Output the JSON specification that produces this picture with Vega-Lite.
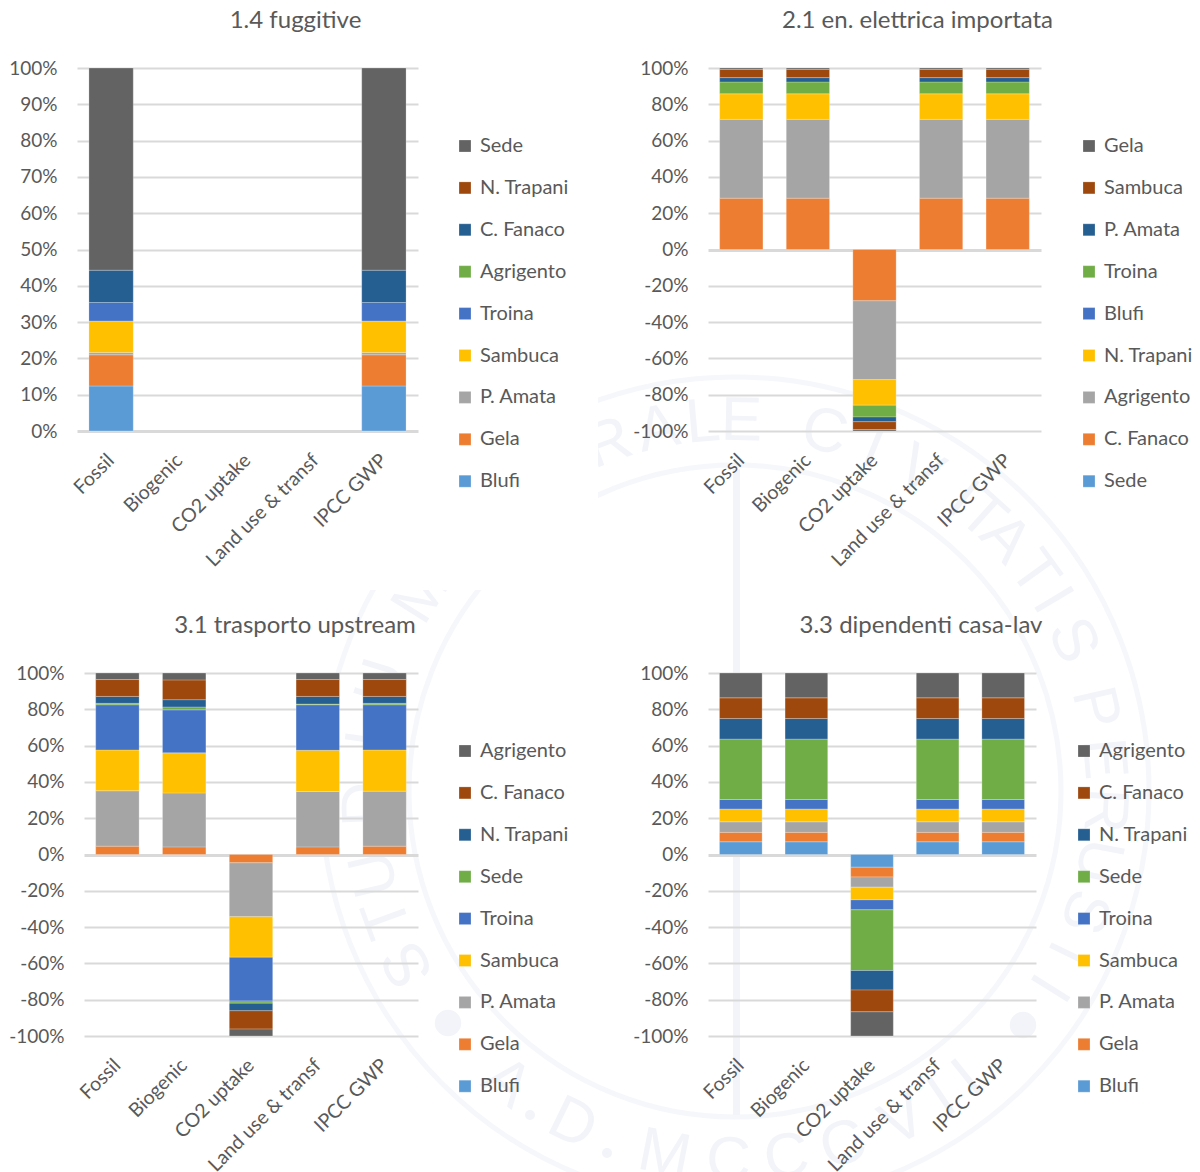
{
  "$schema": "https://vega.github.io/schema/vega-lite/v6.json",
  "background": "white",
  "padding": {"left": 8, "top": 9, "right": 0, "bottom": 0},
  "config": {
    "view": {"stroke": null},
    "font": "Lato",
    "bar": {"stroke": "white", "strokeWidth": 0.4, "strokeOpacity": 0.6},
    "title": {"font": "Lato", "fontWeight": "normal", "color": "#595959", "fontSize": 24, "anchor": "middle", "frame": "group"},
    "axisX": {"title": null, "domain": false, "ticks": false, "grid": false, "labelAngle": -45, "labelAlign": "right", "labelBaseline": "middle", "labelFontSize": 19.5, "labelColor": "#595959", "labelPadding": 26, "labelDx": 6, "labelLimit": 0, "labelOverlap": false, "labelFlush": false},
    "axisY": {"title": null, "domain": false, "ticks": false, "grid": true, "gridColor": "#D9D9D9", "gridWidth": {"condition": {"test": "datum.value === 0", "value": 3}, "value": 2}, "labelFontSize": 19, "labelColor": "#595959", "labelPadding": 20, "labelOverlap": false, "labelFlush": false, "labelExpr": "datum.value + '%'"},
    "legend": {"title": null, "orient": "none", "direction": "vertical", "symbolType": "square", "symbolSize": 144, "symbolStrokeWidth": 0, "symbolOpacity": 1, "labelFontSize": 20, "labelColor": "#595959", "labelOffset": 5, "rowPadding": 21.9, "labelLimit": 0}
  },
  "bounds": "flush",
  "align": "none",
  "columns": 3,
  "spacing": {"row": 242, "column": 0},
  "resolve": {"scale": {"color": "independent"}, "legend": {"color": "independent"}},
  "concat": [
    {
      "width": 1,
      "height": 363,
      "data": {"name": "seal"},
      "layer": [
        {
          "transform": [{"filter": "datum.part == 'staff'"}],
          "mark": {"type": "rect", "fill": "#F2F4F9", "stroke": null},
          "encoding": {
            "x": {"field": "cx", "type": "quantitative", "scale": {"domain": [-100, 100], "range": [559, 759], "nice": false, "zero": false}, "axis": null},
            "x2": {"field": "cx2"},
            "y": {"field": "cy", "type": "quantitative", "scale": {"domain": [-100, 100], "range": [823, 623], "nice": false, "zero": false}, "axis": null},
            "y2": {"field": "cy2"}
          }
        },
        {
          "transform": [{"filter": "datum.part == 'outer ring'"}],
          "mark": {"type": "point", "shape": "circle", "filled": false, "stroke": "#F2F4F9", "strokeWidth": 5, "size": 685584},
          "encoding": {
            "x": {"field": "cx", "type": "quantitative", "axis": null},
            "y": {"field": "cy", "type": "quantitative", "axis": null}
          }
        },
        {
          "transform": [{"filter": "datum.part == 'inner ring'"}],
          "mark": {"type": "point", "shape": "circle", "filled": false, "stroke": "#F2F4F9", "strokeWidth": 5, "size": 425104},
          "encoding": {
            "x": {"field": "cx", "type": "quantitative", "axis": null},
            "y": {"field": "cy", "type": "quantitative", "axis": null}
          }
        },
        {
          "transform": [{"filter": "datum.part == 'dot'"}],
          "mark": {"type": "point", "shape": "circle", "filled": true, "fill": "#F2F4F9", "stroke": null, "opacity": 1, "size": 700},
          "encoding": {
            "x": {"field": "cx", "type": "quantitative", "axis": null},
            "y": {"field": "cy", "type": "quantitative", "axis": null}
          }
        },
        {
          "transform": [{"filter": "datum.part == 'small dot'"}],
          "mark": {"type": "point", "shape": "circle", "filled": true, "fill": "#F2F4F9", "stroke": null, "opacity": 1, "size": 100},
          "encoding": {
            "x": {"field": "cx", "type": "quantitative", "axis": null},
            "y": {"field": "cy", "type": "quantitative", "axis": null}
          }
        },
        {
          "transform": [
            {"filter": "datum.part == 'letter'"},
            {"calculate": "370 * sin(datum.bearing * PI / 180)", "as": "lx"},
            {"calculate": "370 * cos(datum.bearing * PI / 180)", "as": "ly"},
            {"calculate": "datum.band == 'bottom' ? datum.bearing - 180 : datum.bearing", "as": "tilt"}
          ],
          "mark": {"type": "text", "font": "Liberation Sans", "fontSize": 62, "fill": "#F2F4F9", "align": "center", "baseline": "middle"},
          "encoding": {
            "x": {"field": "lx", "type": "quantitative", "axis": null},
            "y": {"field": "ly", "type": "quantitative", "axis": null},
            "text": {"field": "letter"},
            "angle": {"field": "tilt", "type": "quantitative", "scale": null}
          }
        },
        {
          "transform": [{"filter": "datum.part == 'blank corner'"}],
          "mark": {"type": "rect", "fill": "white", "stroke": null},
          "encoding": {
            "x": {"field": "cx", "type": "quantitative", "axis": null},
            "x2": {"field": "cx2"},
            "y": {"field": "cy", "type": "quantitative", "axis": null},
            "y2": {"field": "cy2"}
          }
        }
      ]
    },
    {
      "width": 341,
      "height": 363,
      "title": {"text": "1.4 fuggitive", "dx": 48, "offset": 26},
      "data": {"name": "fuggitive"},
      "mark": {"type": "bar"},
      "encoding": {
        "x": {"field": "category", "type": "nominal", "sort": ["Fossil", "Biogenic", "CO2 uptake", "Land use & transf", "IPCC GWP"], "scale": {"domain": ["Fossil", "Biogenic", "CO2 uptake", "Land use & transf", "IPCC GWP"], "paddingInner": 0.35, "paddingOuter": 0.175}},
        "y": {"field": "value", "type": "quantitative", "stack": "zero", "scale": {"domain": [0, 100], "nice": false}, "axis": {"values": [0, 10, 20, 30, 40, 50, 60, 70, 80, 90, 100]}},
        "order": {"field": "stack_rank", "type": "quantitative"},
        "color": {"field": "series", "type": "nominal", "scale": {"domain": ["Sede", "N. Trapani", "C. Fanaco", "Agrigento", "Troina", "Sambuca", "P. Amata", "Gela", "Blufi"], "range": ["#636363", "#9E480E", "#255E91", "#70AD47", "#4472C4", "#FFC000", "#A5A5A5", "#ED7D31", "#5B9BD5"]}, "legend": {"legendX": 378, "legendY": 68}}
      }
    },
    {
      "width": 623,
      "height": 363,
      "title": {"text": "2.1 en. elettrica importata", "dx": 188, "offset": 26},
      "data": {"name": "elettrica"},
      "mark": {"type": "bar"},
      "encoding": {
        "x": {"field": "category", "type": "nominal", "sort": ["Fossil", "Biogenic", "CO2 uptake", "Land use & transf", "IPCC GWP"], "scale": {"domain": ["Fossil", "Biogenic", "CO2 uptake", "Land use & transf", "IPCC GWP"], "paddingInner": 0.35, "paddingOuter": 0.175, "range": [290, 623]}},
        "y": {"field": "value", "type": "quantitative", "stack": "zero", "scale": {"domain": [-100, 100], "nice": false}, "axis": {"values": [-100, -80, -60, -40, -20, 0, 20, 40, 60, 80, 100], "offset": -290}},
        "order": {"field": "stack_rank", "type": "quantitative"},
        "color": {"field": "series", "type": "nominal", "scale": {"domain": ["Gela", "Sambuca", "P. Amata", "Troina", "Blufi", "N. Trapani", "Agrigento", "C. Fanaco", "Sede"], "range": ["#636363", "#9E480E", "#255E91", "#70AD47", "#4472C4", "#FFC000", "#A5A5A5", "#ED7D31", "#5B9BD5"]}, "legend": {"legendX": 661, "legendY": 68}}
      }
    },
    {
      "width": 1,
      "height": 363,
      "data": {"values": [{}]},
      "mark": {"type": "rect", "opacity": 0},
      "encoding": {}
    },
    {
      "width": 341,
      "height": 363,
      "title": {"text": "3.1 trasporto upstream", "dx": 47.5, "offset": 26},
      "data": {"name": "trasporto"},
      "mark": {"type": "bar"},
      "encoding": {
        "x": {"field": "category", "type": "nominal", "sort": ["Fossil", "Biogenic", "CO2 uptake", "Land use & transf", "IPCC GWP"], "scale": {"domain": ["Fossil", "Biogenic", "CO2 uptake", "Land use & transf", "IPCC GWP"], "paddingInner": 0.35, "paddingOuter": 0.175, "range": [7, 341]}},
        "y": {"field": "value", "type": "quantitative", "stack": "zero", "scale": {"domain": [-100, 100], "nice": false}, "axis": {"values": [-100, -80, -60, -40, -20, 0, 20, 40, 60, 80, 100], "offset": -7}},
        "order": {"field": "stack_rank", "type": "quantitative"},
        "color": {"field": "series", "type": "nominal", "scale": {"domain": ["Agrigento", "C. Fanaco", "N. Trapani", "Sede", "Troina", "Sambuca", "P. Amata", "Gela", "Blufi"], "range": ["#636363", "#9E480E", "#255E91", "#70AD47", "#4472C4", "#FFC000", "#A5A5A5", "#ED7D31", "#5B9BD5"]}, "legend": {"legendX": 378, "legendY": 68}}
      }
    },
    {
      "width": 618,
      "height": 363,
      "title": {"text": "3.3 dipendenti casa-lav", "dx": 194, "offset": 26},
      "data": {"name": "dipendenti"},
      "mark": {"type": "bar"},
      "encoding": {
        "x": {"field": "category", "type": "nominal", "sort": ["Fossil", "Biogenic", "CO2 uptake", "Land use & transf", "IPCC GWP"], "scale": {"domain": ["Fossil", "Biogenic", "CO2 uptake", "Land use & transf", "IPCC GWP"], "paddingInner": 0.35, "paddingOuter": 0.175, "range": [290, 618]}},
        "y": {"field": "value", "type": "quantitative", "stack": "zero", "scale": {"domain": [-100, 100], "nice": false}, "axis": {"values": [-100, -80, -60, -40, -20, 0, 20, 40, 60, 80, 100], "offset": -290}},
        "order": {"field": "stack_rank", "type": "quantitative"},
        "color": {"field": "series", "type": "nominal", "scale": {"domain": ["Agrigento", "C. Fanaco", "N. Trapani", "Sede", "Troina", "Sambuca", "P. Amata", "Gela", "Blufi"], "range": ["#636363", "#9E480E", "#255E91", "#70AD47", "#4472C4", "#FFC000", "#A5A5A5", "#ED7D31", "#5B9BD5"]}, "legend": {"legendX": 656, "legendY": 68}}
      }
    }
  ],
  "datasets": {
    "seal": [
      {"part": "outer ring", "cx": 0, "cy": 0},
      {"part": "inner ring", "cx": 0, "cy": 0},
      {"part": "staff", "cx": -2, "cx2": 5, "cy": 322, "cy2": -324},
      {"part": "dot", "cx": -287, "cy": -232},
      {"part": "dot", "cx": 288, "cy": -234},
      {"part": "small dot", "cx": -205, "cy": -324},
      {"part": "small dot", "cx": -128, "cy": -362},
      {"part": "letter", "letter": "S", "bearing": -118, "band": "top"},
      {"part": "letter", "letter": "T", "bearing": -110, "band": "top"},
      {"part": "letter", "letter": "U", "bearing": -103, "band": "top"},
      {"part": "letter", "letter": "D", "bearing": -92, "band": "top"},
      {"part": "letter", "letter": "I", "bearing": -82, "band": "top"},
      {"part": "letter", "letter": "U", "bearing": -73, "band": "top"},
      {"part": "letter", "letter": "M", "bearing": -58, "band": "top"},
      {"part": "letter", "letter": "R", "bearing": -20, "band": "top"},
      {"part": "letter", "letter": "A", "bearing": -12, "band": "top"},
      {"part": "letter", "letter": "L", "bearing": -5, "band": "top"},
      {"part": "letter", "letter": "E", "bearing": 1, "band": "top"},
      {"part": "letter", "letter": "C", "bearing": 14, "band": "top"},
      {"part": "letter", "letter": "I", "bearing": 22, "band": "top"},
      {"part": "letter", "letter": "V", "bearing": 30, "band": "top"},
      {"part": "letter", "letter": "I", "bearing": 38, "band": "top"},
      {"part": "letter", "letter": "T", "bearing": 42, "band": "top"},
      {"part": "letter", "letter": "A", "bearing": 47, "band": "top"},
      {"part": "letter", "letter": "T", "bearing": 54, "band": "top"},
      {"part": "letter", "letter": "I", "bearing": 59, "band": "top"},
      {"part": "letter", "letter": "S", "bearing": 66, "band": "top"},
      {"part": "letter", "letter": "P", "bearing": 77, "band": "top"},
      {"part": "letter", "letter": "E", "bearing": 85, "band": "top"},
      {"part": "letter", "letter": "R", "bearing": 93, "band": "top"},
      {"part": "letter", "letter": "U", "bearing": 101, "band": "top"},
      {"part": "letter", "letter": "S", "bearing": 109, "band": "top"},
      {"part": "letter", "letter": "I", "bearing": 116, "band": "top"},
      {"part": "letter", "letter": "I", "bearing": 122, "band": "top"},
      {"part": "letter", "letter": "A", "bearing": 218, "band": "bottom"},
      {"part": "letter", "letter": "D", "bearing": 206, "band": "bottom"},
      {"part": "letter", "letter": "M", "bearing": 191, "band": "bottom"},
      {"part": "letter", "letter": "C", "bearing": 181, "band": "bottom"},
      {"part": "letter", "letter": "C", "bearing": 172, "band": "bottom"},
      {"part": "letter", "letter": "C", "bearing": 163, "band": "bottom"},
      {"part": "letter", "letter": "V", "bearing": 153, "band": "bottom"},
      {"part": "letter", "letter": "I", "bearing": 146, "band": "bottom"},
      {"part": "letter", "letter": "I", "bearing": 141, "band": "bottom"},
      {"part": "blank corner", "cx": -430, "cx2": -137, "cy": 430, "cy2": 201}
    ],
    "fuggitive": [
      {"category": "Fossil", "series": "Blufi", "value": 12.4, "stack_rank": 1},
      {"category": "Fossil", "series": "Gela", "value": 8.6, "stack_rank": 2},
      {"category": "Fossil", "series": "P. Amata", "value": 0.6, "stack_rank": 3},
      {"category": "Fossil", "series": "Sambuca", "value": 8.7, "stack_rank": 4},
      {"category": "Fossil", "series": "Troina", "value": 5.1, "stack_rank": 5},
      {"category": "Fossil", "series": "C. Fanaco", "value": 8.9, "stack_rank": 7},
      {"category": "Fossil", "series": "Sede", "value": 55.7, "stack_rank": 9},
      {"category": "IPCC GWP", "series": "Blufi", "value": 12.4, "stack_rank": 1},
      {"category": "IPCC GWP", "series": "Gela", "value": 8.6, "stack_rank": 2},
      {"category": "IPCC GWP", "series": "P. Amata", "value": 0.6, "stack_rank": 3},
      {"category": "IPCC GWP", "series": "Sambuca", "value": 8.7, "stack_rank": 4},
      {"category": "IPCC GWP", "series": "Troina", "value": 5.1, "stack_rank": 5},
      {"category": "IPCC GWP", "series": "C. Fanaco", "value": 8.9, "stack_rank": 7},
      {"category": "IPCC GWP", "series": "Sede", "value": 55.7, "stack_rank": 9}
    ],
    "elettrica": [
      {"category": "Fossil", "series": "C. Fanaco", "value": 28.3, "stack_rank": 2},
      {"category": "Fossil", "series": "Agrigento", "value": 43.4, "stack_rank": 3},
      {"category": "Fossil", "series": "N. Trapani", "value": 14.1, "stack_rank": 4},
      {"category": "Fossil", "series": "Troina", "value": 6.5, "stack_rank": 6},
      {"category": "Fossil", "series": "P. Amata", "value": 2.4, "stack_rank": 7},
      {"category": "Fossil", "series": "Sambuca", "value": 4.5, "stack_rank": 8},
      {"category": "Fossil", "series": "Gela", "value": 0.8, "stack_rank": 9},
      {"category": "Biogenic", "series": "C. Fanaco", "value": 28.3, "stack_rank": 2},
      {"category": "Biogenic", "series": "Agrigento", "value": 43.4, "stack_rank": 3},
      {"category": "Biogenic", "series": "N. Trapani", "value": 14.1, "stack_rank": 4},
      {"category": "Biogenic", "series": "Troina", "value": 6.5, "stack_rank": 6},
      {"category": "Biogenic", "series": "P. Amata", "value": 2.4, "stack_rank": 7},
      {"category": "Biogenic", "series": "Sambuca", "value": 4.5, "stack_rank": 8},
      {"category": "Biogenic", "series": "Gela", "value": 0.8, "stack_rank": 9},
      {"category": "CO2 uptake", "series": "C. Fanaco", "value": -28.3, "stack_rank": 2},
      {"category": "CO2 uptake", "series": "Agrigento", "value": -43.4, "stack_rank": 3},
      {"category": "CO2 uptake", "series": "N. Trapani", "value": -14.1, "stack_rank": 4},
      {"category": "CO2 uptake", "series": "Troina", "value": -6.5, "stack_rank": 6},
      {"category": "CO2 uptake", "series": "P. Amata", "value": -2.6, "stack_rank": 7},
      {"category": "CO2 uptake", "series": "Sambuca", "value": -4.3, "stack_rank": 8},
      {"category": "CO2 uptake", "series": "Gela", "value": -0.8, "stack_rank": 9},
      {"category": "Land use & transf", "series": "C. Fanaco", "value": 28.3, "stack_rank": 2},
      {"category": "Land use & transf", "series": "Agrigento", "value": 43.4, "stack_rank": 3},
      {"category": "Land use & transf", "series": "N. Trapani", "value": 14.1, "stack_rank": 4},
      {"category": "Land use & transf", "series": "Troina", "value": 6.5, "stack_rank": 6},
      {"category": "Land use & transf", "series": "P. Amata", "value": 2.4, "stack_rank": 7},
      {"category": "Land use & transf", "series": "Sambuca", "value": 4.5, "stack_rank": 8},
      {"category": "Land use & transf", "series": "Gela", "value": 0.8, "stack_rank": 9},
      {"category": "IPCC GWP", "series": "C. Fanaco", "value": 28.3, "stack_rank": 2},
      {"category": "IPCC GWP", "series": "Agrigento", "value": 43.4, "stack_rank": 3},
      {"category": "IPCC GWP", "series": "N. Trapani", "value": 14.1, "stack_rank": 4},
      {"category": "IPCC GWP", "series": "Troina", "value": 6.5, "stack_rank": 6},
      {"category": "IPCC GWP", "series": "P. Amata", "value": 2.4, "stack_rank": 7},
      {"category": "IPCC GWP", "series": "Sambuca", "value": 4.5, "stack_rank": 8},
      {"category": "IPCC GWP", "series": "Gela", "value": 0.8, "stack_rank": 9}
    ],
    "trasporto": [
      {"category": "Fossil", "series": "Gela", "value": 4.6, "stack_rank": 2},
      {"category": "Fossil", "series": "P. Amata", "value": 30.5, "stack_rank": 3},
      {"category": "Fossil", "series": "Sambuca", "value": 22.5, "stack_rank": 4},
      {"category": "Fossil", "series": "Troina", "value": 24.9, "stack_rank": 5},
      {"category": "Fossil", "series": "Sede", "value": 0.8, "stack_rank": 6},
      {"category": "Fossil", "series": "N. Trapani", "value": 3.8, "stack_rank": 7},
      {"category": "Fossil", "series": "C. Fanaco", "value": 9.3, "stack_rank": 8},
      {"category": "Fossil", "series": "Agrigento", "value": 3.6, "stack_rank": 9},
      {"category": "Biogenic", "series": "Gela", "value": 4.2, "stack_rank": 2},
      {"category": "Biogenic", "series": "P. Amata", "value": 29.7, "stack_rank": 3},
      {"category": "Biogenic", "series": "Sambuca", "value": 22.1, "stack_rank": 4},
      {"category": "Biogenic", "series": "Troina", "value": 23.7, "stack_rank": 5},
      {"category": "Biogenic", "series": "Sede", "value": 1.6, "stack_rank": 6},
      {"category": "Biogenic", "series": "N. Trapani", "value": 4.0, "stack_rank": 7},
      {"category": "Biogenic", "series": "C. Fanaco", "value": 10.9, "stack_rank": 8},
      {"category": "Biogenic", "series": "Agrigento", "value": 3.8, "stack_rank": 9},
      {"category": "CO2 uptake", "series": "Gela", "value": -4.6, "stack_rank": 2},
      {"category": "CO2 uptake", "series": "P. Amata", "value": -29.7, "stack_rank": 3},
      {"category": "CO2 uptake", "series": "Sambuca", "value": -22.3, "stack_rank": 4},
      {"category": "CO2 uptake", "series": "Troina", "value": -24.1, "stack_rank": 5},
      {"category": "CO2 uptake", "series": "Sede", "value": -1.2, "stack_rank": 6},
      {"category": "CO2 uptake", "series": "N. Trapani", "value": -4.2, "stack_rank": 7},
      {"category": "CO2 uptake", "series": "C. Fanaco", "value": -10.1, "stack_rank": 8},
      {"category": "CO2 uptake", "series": "Agrigento", "value": -3.8, "stack_rank": 9},
      {"category": "Land use & transf", "series": "Gela", "value": 4.2, "stack_rank": 2},
      {"category": "Land use & transf", "series": "P. Amata", "value": 30.5, "stack_rank": 3},
      {"category": "Land use & transf", "series": "Sambuca", "value": 22.7, "stack_rank": 4},
      {"category": "Land use & transf", "series": "Troina", "value": 25.1, "stack_rank": 5},
      {"category": "Land use & transf", "series": "Sede", "value": 0.4, "stack_rank": 6},
      {"category": "Land use & transf", "series": "N. Trapani", "value": 4.2, "stack_rank": 7},
      {"category": "Land use & transf", "series": "C. Fanaco", "value": 9.3, "stack_rank": 8},
      {"category": "Land use & transf", "series": "Agrigento", "value": 3.6, "stack_rank": 9},
      {"category": "IPCC GWP", "series": "Gela", "value": 4.6, "stack_rank": 2},
      {"category": "IPCC GWP", "series": "P. Amata", "value": 30.3, "stack_rank": 3},
      {"category": "IPCC GWP", "series": "Sambuca", "value": 22.7, "stack_rank": 4},
      {"category": "IPCC GWP", "series": "Troina", "value": 24.9, "stack_rank": 5},
      {"category": "IPCC GWP", "series": "Sede", "value": 0.8, "stack_rank": 6},
      {"category": "IPCC GWP", "series": "N. Trapani", "value": 3.8, "stack_rank": 7},
      {"category": "IPCC GWP", "series": "C. Fanaco", "value": 9.3, "stack_rank": 8},
      {"category": "IPCC GWP", "series": "Agrigento", "value": 3.6, "stack_rank": 9}
    ],
    "dipendenti": [
      {"category": "Fossil", "series": "Blufi", "value": 7.0, "stack_rank": 1},
      {"category": "Fossil", "series": "Gela", "value": 5.2, "stack_rank": 2},
      {"category": "Fossil", "series": "P. Amata", "value": 5.8, "stack_rank": 3},
      {"category": "Fossil", "series": "Sambuca", "value": 7.1, "stack_rank": 4},
      {"category": "Fossil", "series": "Troina", "value": 5.2, "stack_rank": 5},
      {"category": "Fossil", "series": "Sede", "value": 33.3, "stack_rank": 6},
      {"category": "Fossil", "series": "N. Trapani", "value": 11.3, "stack_rank": 7},
      {"category": "Fossil", "series": "C. Fanaco", "value": 11.4, "stack_rank": 8},
      {"category": "Fossil", "series": "Agrigento", "value": 13.7, "stack_rank": 9},
      {"category": "Biogenic", "series": "Blufi", "value": 7.0, "stack_rank": 1},
      {"category": "Biogenic", "series": "Gela", "value": 5.2, "stack_rank": 2},
      {"category": "Biogenic", "series": "P. Amata", "value": 5.8, "stack_rank": 3},
      {"category": "Biogenic", "series": "Sambuca", "value": 7.1, "stack_rank": 4},
      {"category": "Biogenic", "series": "Troina", "value": 5.2, "stack_rank": 5},
      {"category": "Biogenic", "series": "Sede", "value": 33.3, "stack_rank": 6},
      {"category": "Biogenic", "series": "N. Trapani", "value": 11.3, "stack_rank": 7},
      {"category": "Biogenic", "series": "C. Fanaco", "value": 11.4, "stack_rank": 8},
      {"category": "Biogenic", "series": "Agrigento", "value": 13.7, "stack_rank": 9},
      {"category": "CO2 uptake", "series": "Blufi", "value": -7.0, "stack_rank": 1},
      {"category": "CO2 uptake", "series": "Gela", "value": -5.4, "stack_rank": 2},
      {"category": "CO2 uptake", "series": "P. Amata", "value": -5.6, "stack_rank": 3},
      {"category": "CO2 uptake", "series": "Sambuca", "value": -7.0, "stack_rank": 4},
      {"category": "CO2 uptake", "series": "Troina", "value": -5.5, "stack_rank": 5},
      {"category": "CO2 uptake", "series": "Sede", "value": -33.4, "stack_rank": 6},
      {"category": "CO2 uptake", "series": "N. Trapani", "value": -10.8, "stack_rank": 7},
      {"category": "CO2 uptake", "series": "C. Fanaco", "value": -12.0, "stack_rank": 8},
      {"category": "CO2 uptake", "series": "Agrigento", "value": -13.3, "stack_rank": 9},
      {"category": "Land use & transf", "series": "Blufi", "value": 7.0, "stack_rank": 1},
      {"category": "Land use & transf", "series": "Gela", "value": 5.2, "stack_rank": 2},
      {"category": "Land use & transf", "series": "P. Amata", "value": 5.8, "stack_rank": 3},
      {"category": "Land use & transf", "series": "Sambuca", "value": 7.1, "stack_rank": 4},
      {"category": "Land use & transf", "series": "Troina", "value": 5.2, "stack_rank": 5},
      {"category": "Land use & transf", "series": "Sede", "value": 33.3, "stack_rank": 6},
      {"category": "Land use & transf", "series": "N. Trapani", "value": 11.3, "stack_rank": 7},
      {"category": "Land use & transf", "series": "C. Fanaco", "value": 11.4, "stack_rank": 8},
      {"category": "Land use & transf", "series": "Agrigento", "value": 13.7, "stack_rank": 9},
      {"category": "IPCC GWP", "series": "Blufi", "value": 7.0, "stack_rank": 1},
      {"category": "IPCC GWP", "series": "Gela", "value": 5.2, "stack_rank": 2},
      {"category": "IPCC GWP", "series": "P. Amata", "value": 5.8, "stack_rank": 3},
      {"category": "IPCC GWP", "series": "Sambuca", "value": 7.1, "stack_rank": 4},
      {"category": "IPCC GWP", "series": "Troina", "value": 5.2, "stack_rank": 5},
      {"category": "IPCC GWP", "series": "Sede", "value": 33.3, "stack_rank": 6},
      {"category": "IPCC GWP", "series": "N. Trapani", "value": 11.3, "stack_rank": 7},
      {"category": "IPCC GWP", "series": "C. Fanaco", "value": 11.4, "stack_rank": 8},
      {"category": "IPCC GWP", "series": "Agrigento", "value": 13.7, "stack_rank": 9}
    ]
  }
}
